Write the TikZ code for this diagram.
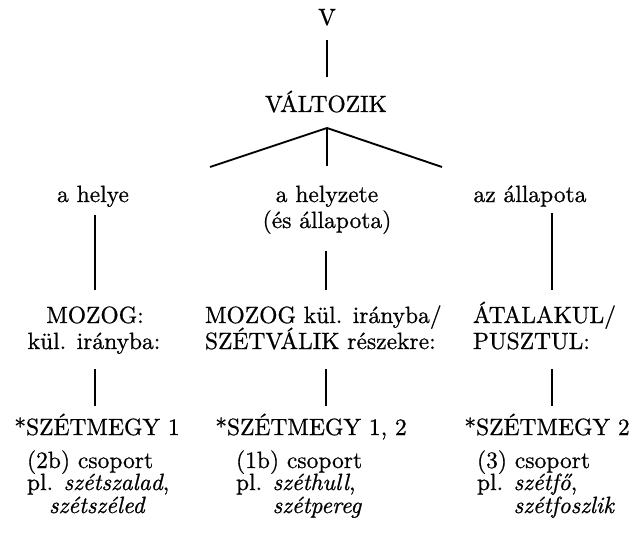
\documentclass[tikz,border=0pt]{standalone}
\usepackage{fontspec}
\setmainfont{lmroman10-regular.otf}[ItalicFont=lmroman10-italic.otf,FakeBold=0.8]
\begin{document}
\begin{tikzpicture}[x=0.4255pt,y=-0.4255pt,
  lbl/.style={inner sep=0pt,outer sep=0pt,anchor=base},
  lblw/.style={inner sep=0pt,outer sep=0pt,anchor=base west},
  conn/.style={line width=1.2pt},
  branch/.style={line width=0.8pt}]
\useasboundingbox (0,0) rectangle (634,544);
% top
\node[lbl] (V) at (327,25) {V};
\node[lbl] (valt) at (326,112) {VÁLTOZIK};
% second level
\node[lbl] (helye) at (93,202) {a helye};
\node[lbl] (helyzete) at (327,202) {a helyzete};
\node[lbl] (es) at (327,228) {(és állapota)};
\node[lbl] (allapota) at (530,202) {az állapota};
% third level
\node[lbl] (mozog) at (95,323) {MOZOG:};
\node[lbl] (kul) at (94,349) {kül. irányba:};
\node[lblw] (mozk) at (205,323) {MOZOG kül. irányba/};
\node[lblw] (szetv) at (205,349) {SZÉTVÁLIK részekre:};
\node[lblw] (atal) at (473,323) {ÁTALAKUL/};
\node[lblw] (puszt) at (473,349) {PUSZTUL:};
% fourth level
\node[lbl] (sz1) at (97,435) {*SZÉTMEGY 1};
\node[lbl] (sz12) at (311,435) {*SZÉTMEGY 1, 2};
\node[lbl] (sz2) at (547,435) {*SZÉTMEGY 2};
% bottom blocks
\node[lblw] (cs2b) at (27,468) {(2b) csoport};
\node[lblw] (pl2b) at (27,490) {pl. \textit{szétszalad},};
\node[lblw] (w2b) at (49,513) {\textit{szétszéled}};
\node[lblw] (cs1b) at (236,468) {(1b) csoport};
\node[lblw] (pl1b) at (236,490) {pl. \textit{széthull},};
\node[lblw] (w1b) at (236,513) {\phantom{pl. }\textit{szétpereg}};
\node[lblw] (cs3) at (477,468) {(3) csoport};
\node[lblw] (pl3) at (477,490) {pl. \textit{szétfő},};
\node[lblw] (w3) at (477,513) {\phantom{pl. }\textit{szétfoszlik}};
% connector end points
\coordinate (vtop) at (327,40);
\coordinate (vbot) at (327,77);
\coordinate (apex) at (327,128);
\coordinate (bl) at (210,167);
\coordinate (bm) at (327,166);
\coordinate (br) at (442,167);
\coordinate (l1a) at (95,215);
\coordinate (l1b) at (95,290);
\coordinate (m1a) at (326,251);
\coordinate (m1b) at (326,290);
\coordinate (r1a) at (552,213);
\coordinate (r1b) at (552,290);
\coordinate (l2a) at (95,369);
\coordinate (l2b) at (95,406);
\coordinate (m2a) at (326,369);
\coordinate (m2b) at (326,406);
\coordinate (r2a) at (552,369);
\coordinate (r2b) at (552,406);
% connectors
\draw[conn] (vtop) -- (vbot);
\draw[branch] (bl) -- (apex) -- (br);
\draw[conn] (apex) -- (bm);
\draw[conn] (l1a) -- (l1b);
\draw[conn] (m1a) -- (m1b);
\draw[conn] (r1a) -- (r1b);
\draw[conn] (l2a) -- (l2b);
\draw[conn] (m2a) -- (m2b);
\draw[conn] (r2a) -- (r2b);
\end{tikzpicture}
\end{document}
